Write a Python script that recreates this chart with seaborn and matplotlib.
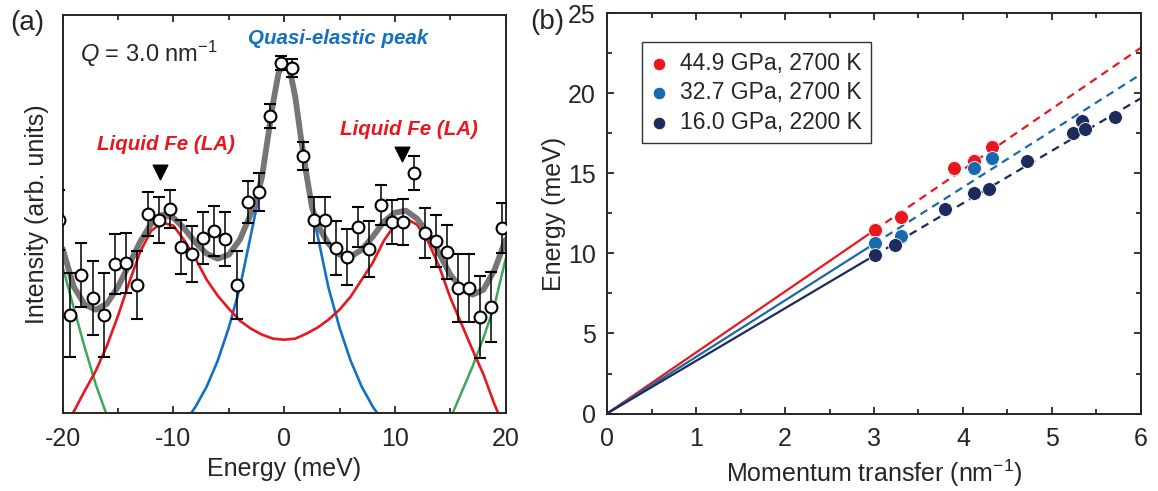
import matplotlib
matplotlib.use('Agg')
import matplotlib.pyplot as plt
from matplotlib.ticker import MultipleLocator
import seaborn as sns

# --- panel (a): IXS spectrum at Q = 3.0 nm-1 ---
energy_pts = [-20.3, -19.3, -18.3, -17.3, -16.3, -15.3, -14.3, -13.3, -12.3, -11.3,
              -10.3, -9.3, -8.3, -7.3, -6.3, -5.3, -4.3, -3.3, -2.3, -1.3,
              -0.3, 0.7, 1.7, 2.7, 3.7, 4.7, 5.7, 6.7, 7.7, 8.7,
              9.7, 10.7, 11.7, 12.7, 13.7, 14.7, 15.7, 16.7, 17.7, 18.7, 19.7]
intensity_pts = [193, 98, 138, 115, 98, 149, 150, 128, 199, 193,
                 204, 166, 159, 175, 182, 174, 128, 211, 221, 297,
                 350, 345, 257, 193, 193, 165, 156, 186, 164, 208,
                 191, 191, 240, 180, 172, 161, 125, 125, 96, 106, 185]
intensity_err = [30, 42, 32, 37, 42, 30, 30, 34, 22, 23,
                 19, 27, 28, 26, 25, 27, 34, 21, 19, 12,
                 7, 9, 14, 23, 23, 27, 28, 20, 28, 20,
                 22, 23, 17, 25, 26, 27, 34, 34, 41, 35, 25]

# total fit (grey)
fit_E = [-20, -19, -18, -17, -16, -15, -14, -13, -12, -11, -10, -9, -8, -7, -6, -5, -4,
         -3, -2.5, -2, -1.5, -1, -0.5, 0, 0.5, 1, 1.5, 2, 2.5, 3,
         4, 5, 6, 7, 8, 9, 10, 11, 12, 13, 14, 15, 16, 17, 18, 19, 20]
fit_total = [164, 126, 108, 103, 109, 126, 148, 171, 189, 198, 195, 184, 170, 159, 154, 158, 173,
             199, 214, 236, 273, 310, 340, 351, 343, 316, 276, 239, 206, 188,
             169, 158, 156, 163, 176, 191, 200, 202, 194, 179, 159, 138, 124, 118, 123, 143, 173]

# quasi-elastic component (blue)
qe_E = [-8.5, -8, -7, -6, -5, -4, -3, -2.5, -2, -1.5, -1, -0.5, 0,
        0.5, 1, 1.5, 2, 2.5, 3, 4, 5, 6, 7, 8, 8.5]
qe_I = [-2, 6, 26, 52, 85, 125, 178, 205, 237, 272, 308, 343, 352,
        343, 308, 272, 237, 205, 178, 125, 85, 52, 26, 6, -2]

# LA phonon component (red)
la_E = [-20, -19, -18, -17, -16, -15, -14, -13, -12, -11, -10, -9, -8, -7, -6, -5, -4, -3, -2, -1,
        0, 1, 2, 3, 4, 5, 6, 7, 8, 9, 10, 11, 12, 13, 14, 15, 16, 17, 18, 19, 20]
la_I = [-20, 1, 22, 42, 67, 97, 130, 161, 182, 190, 187, 172, 154, 133, 117, 104, 92, 84, 78, 74,
        73, 74, 79, 85, 93, 103, 116, 133, 150, 172, 188, 194, 188, 171, 146, 115, 89, 63, 38, 8, -18]

# outer component (green)
green_left_E = [-20, -19, -18, -17, -16, -15.5]
green_left_I = [146, 105, 65, 28, -3, -20]
green_right_E = [15, 16, 17, 18, 19, 20]
green_right_I = [-6, 20, 46, 75, 108, 154]

arrow_E = [-11.2, 10.6]
arrow_I = [241, 259]

# --- panel (b): dispersion ---
q_red = [3.01, 3.30, 3.90, 4.12, 4.33]
e_red = [11.47, 12.28, 15.34, 15.78, 16.66]
q_blue = [3.01, 3.30, 4.12, 4.33]
e_blue = [10.66, 11.09, 15.34, 15.97]
q_navy = [3.01, 3.24, 3.80, 4.12, 4.29, 4.72, 5.24, 5.34, 5.37, 5.71]
e_navy = [9.91, 10.53, 12.78, 13.78, 14.03, 15.78, 17.53, 18.28, 17.78, 18.53]

q_solid = [0, 3]
q_dash = [3, 6]
red_solid, red_dash = [0, 11.43], [11.43, 22.85]
blue_solid, blue_dash = [0, 10.6], [10.6, 21.2]
navy_solid, navy_dash = [0, 9.86], [9.86, 19.7]

labels_b = ['44.9 GPa, 2700 K', '32.7 GPa, 2700 K', '16.0 GPa, 2200 K']

RED = '#e8161f'
BLUE = '#1470c4'
GREEN = '#3ea85a'
GREY = '#767676'
B_RED = '#e8171e'
B_BLUE = '#176aab'
B_NAVY = '#1c2a5c'

sns.set_theme(style='ticks')
plt.rcParams['font.family'] = ['Liberation Sans', 'DejaVu Sans']
plt.rcParams['mathtext.fontset'] = 'custom'
plt.rcParams['mathtext.rm'] = 'Liberation Sans'
plt.rcParams['mathtext.it'] = 'Liberation Sans:italic'
plt.rcParams['axes.unicode_minus'] = False
plt.rcParams['axes.linewidth'] = 1.4

fig = plt.figure(figsize=(11.58, 4.91), dpi=100)
ax_a = fig.add_axes([0.0541, 0.1595, 0.3826, 0.810])
ax_b = fig.add_axes([0.5242, 0.1578, 0.4611, 0.815])

# panel (a)
sns.lineplot(x=green_left_E, y=green_left_I, ax=ax_a, color=GREEN, lw=1.8, estimator=None)
sns.lineplot(x=green_right_E, y=green_right_I, ax=ax_a, color=GREEN, lw=1.8, estimator=None)
sns.lineplot(x=qe_E, y=qe_I, ax=ax_a, color=BLUE, lw=1.9, estimator=None)
sns.lineplot(x=la_E, y=la_I, ax=ax_a, color=RED, lw=1.9, estimator=None)
sns.lineplot(x=fit_E, y=fit_total, ax=ax_a, color=GREY, lw=4.2, estimator=None)
ax_a.errorbar(energy_pts, intensity_pts, yerr=intensity_err, fmt='o', ms=8.5,
              mfc='white', mec='black', mew=1.5, ecolor='black', elinewidth=1.1,
              capsize=4, capthick=1.1, zorder=5)
ax_a.scatter(arrow_E, arrow_I, marker='v', s=110, color='black', zorder=6)

ax_a.text(-18.4, 359, r'$Q$ = 3.0 nm$^{-1}$', fontsize=17, va='center', ha='left')
ax_a.text(4.9, 374, 'Quasi-elastic peak', color=BLUE, fontsize=14.8,
          fontweight='bold', fontstyle='italic', ha='center', va='center')
ax_a.text(-10.7, 268, 'Liquid Fe (LA)', color=RED, fontsize=14.8,
          fontweight='bold', fontstyle='italic', ha='center', va='center')
ax_a.text(11.3, 283, 'Liquid Fe (LA)', color=RED, fontsize=14.8,
          fontweight='bold', fontstyle='italic', ha='center', va='center')

ax_a.set_xlim(-20, 20)
ax_a.set_ylim(0, 397.7)
ax_a.set_xticks([-20, -10, 0, 10, 20])
ax_a.xaxis.set_minor_locator(MultipleLocator(5))
ax_a.set_yticks([])
ax_a.tick_params(axis='x', which='both', direction='in', top=True, width=1.3,
                 labelsize=18, pad=10)
ax_a.tick_params(axis='x', which='major', length=5)
ax_a.tick_params(axis='x', which='minor', length=3.5)
ax_a.set_xlabel('Energy (meV)', fontsize=18)
ax_a.set_ylabel('Intensity (arb. units)', fontsize=18)
ax_a.xaxis.set_label_coords(0.5, -0.112)
ax_a.yaxis.set_label_coords(-0.03, 0.5)

# panel (b)
for qs, es, qd, ed, col in [(q_solid, red_solid, q_dash, red_dash, B_RED),
                            (q_solid, blue_solid, q_dash, blue_dash, B_BLUE),
                            (q_solid, navy_solid, q_dash, navy_dash, B_NAVY)]:
    ax_b.plot(qs, es, color=col, lw=1.6, zorder=2)
    ax_b.plot(qd, ed, color=col, lw=1.6, ls=(0, (3.6, 2.6)), zorder=2)

ax_b.errorbar(q_red, e_red, yerr=0.35, fmt='none', ecolor=B_RED, elinewidth=1,
              capsize=3, zorder=3)
ax_b.errorbar(q_blue, e_blue, yerr=0.4, fmt='none', ecolor=B_BLUE, elinewidth=1,
              capsize=3, zorder=3)
sns.scatterplot(x=q_red, y=e_red, ax=ax_b, color=B_RED, s=100, edgecolor='white',
                linewidth=0.6, label=labels_b[0], zorder=4)
sns.scatterplot(x=q_blue, y=e_blue, ax=ax_b, color=B_BLUE, s=100, edgecolor='white',
                linewidth=0.6, label=labels_b[1], zorder=4)
sns.scatterplot(x=q_navy, y=e_navy, ax=ax_b, color=B_NAVY, s=100, edgecolor='white',
                linewidth=0.6, label=labels_b[2], zorder=4)

leg = ax_b.legend(loc='upper left', bbox_to_anchor=(0.0655, 0.9275), borderaxespad=0,
                  fontsize=16.5, frameon=True, fancybox=False, edgecolor='black',
                  handlelength=0.7, handletextpad=0.55, labelspacing=0.3,
                  borderpad=0.4, markerscale=0.9)
leg.get_frame().set_linewidth(1.0)

ax_b.set_xlim(0, 6)
ax_b.set_ylim(0, 25)
ax_b.xaxis.set_major_locator(MultipleLocator(1))
ax_b.xaxis.set_minor_locator(MultipleLocator(0.5))
ax_b.yaxis.set_major_locator(MultipleLocator(5))
ax_b.yaxis.set_minor_locator(MultipleLocator(2.5))
ax_b.tick_params(which='both', direction='in', top=True, right=True, width=1.3,
                 labelsize=18)
ax_b.tick_params(axis='x', which='both', pad=10)
ax_b.tick_params(axis='y', which='both', pad=8)
ax_b.tick_params(which='major', length=5)
ax_b.tick_params(which='minor', length=3.5)
ax_b.set_xlabel('Momentum transfer (nm$^{-1}$)', fontsize=18)
ax_b.set_ylabel('Energy (meV)', fontsize=18)
ax_b.xaxis.set_label_coords(0.5, -0.109)
ax_b.yaxis.set_label_coords(-0.077, 0.5)

fig.text(27 / 1158, 1 - 23 / 491, '(a)', fontsize=20, ha='center', va='center')
fig.text(547 / 1158, 1 - 22 / 491, '(b)', fontsize=20, ha='center', va='center')

fig.savefig('out.png', dpi=100)
